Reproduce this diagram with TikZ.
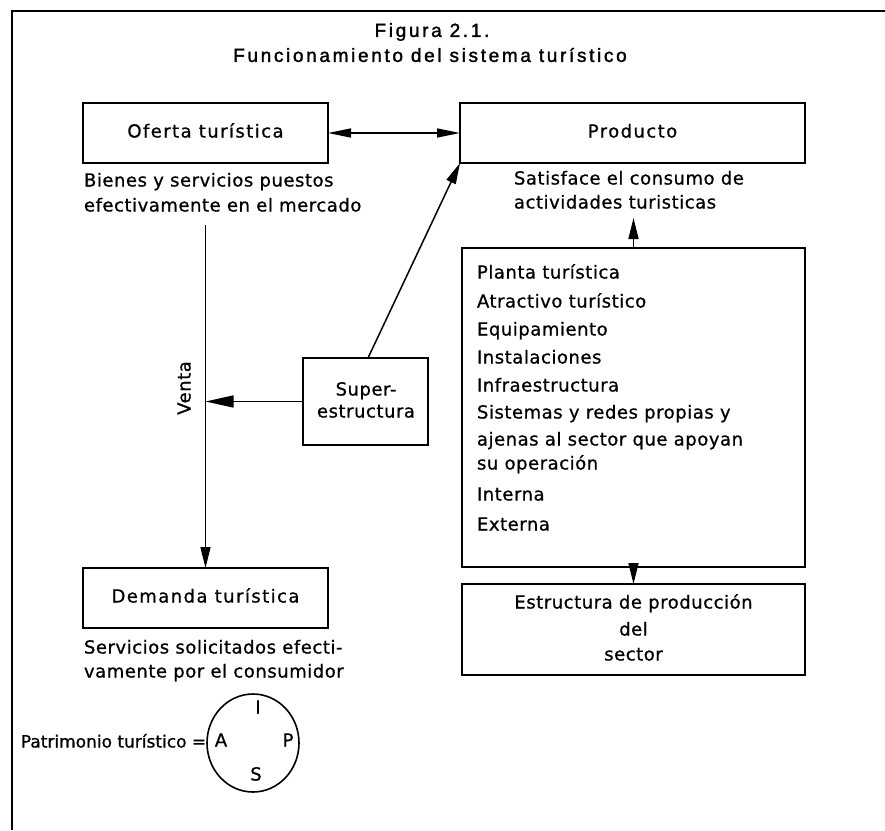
\documentclass[tikz,border=0pt]{standalone}
\usepackage{fontspec}
\setmainfont{DejaVu Sans}
\newfontfamily\bodyfont{DejaVu Sans}[LetterSpace=3,FakeBold=0.8]
\newfontfamily\boxfont{DejaVu Sans}[LetterSpace=8,FakeBold=0.8]
\newfontfamily\plainfont{DejaVu Sans}[FakeBold=0.8]
\newfontfamily\titlefont{Liberation Sans}[LetterSpace=14,FakeBold=1.6]
\usetikzlibrary{arrows.meta,shapes.geometric}
\begin{document}
\begin{tikzpicture}[x=1pt,y=-1pt,
  txt/.style={inner sep=0pt, outer sep=0pt, font=\bodyfont\fontsize{18}{22}\selectfont, text height=13pt, text depth=4pt},
  btxt/.style={txt, font=\boxfont\fontsize{18}{22}\selectfont},
  ttl/.style={inner sep=0pt, font=\titlefont\fontsize{19}{22}\selectfont},
  boxn/.style={draw, line width=1.9pt, inner sep=0pt, outer sep=0pt},
  arr/.style={line width=1.5pt, -{Triangle[length=21pt,width=10pt]}},
  darr/.style={line width=1.5pt, {Triangle[length=23pt,width=9pt]}-{Triangle[length=23pt,width=9pt]}}
]
\useasboundingbox (0,0) rectangle (885,830);
\fill[white] (0,0) rectangle (885,830);
% frame
\draw[line width=1.4pt] (12,830) -- (12,11) -- (885,11);
% title
\node[ttl] (t1) at (432,32) {Figura 2.1.};
\node[ttl] (t2) at (430,55) {Funcionamiento del sistema turístico};
% boxes
\node[boxn, minimum width=245pt, minimum height=60pt] (oferta) at (205.5,133) {};
\node[btxt] (ofertat) at (oferta.center) {Oferta turística};
\node[boxn, minimum width=345pt, minimum height=60pt] (producto) at (632.5,133) {};
\node[btxt] (productot) at (producto.center) {Producto};
\node[boxn, minimum width=125pt, minimum height=87pt] (super) at (365.5,401.5) {};
\node[txt] (super1) at (366,391) {Super-};
\node[txt] (super2) at (366,413) {estructura};
\node[boxn, minimum width=343pt, minimum height=319pt] (planta) at (633.5,407.5) {};
\node[boxn, minimum width=343pt, minimum height=91pt] (estr) at (633.5,629.5) {};
\node[boxn, minimum width=245pt, minimum height=60pt] (demanda) at (205.5,598) {};
\node[btxt] (demandat) at (demanda.center) {Demanda turística};
% captions
\node[txt, anchor=west] (c1) at (84,182) {Bienes y servicios puestos};
\node[txt, anchor=west] (c2) at (84,207) {efectivamente en el mercado};
\node[txt, anchor=west] (c3) at (514,180) {Satisface el consumo de};
\node[txt, anchor=west] (c4) at (514,204) {actividades turisticas};
\node[txt, anchor=west] (c5) at (84,649) {Servicios solicitados efecti-};
\node[txt, anchor=west] (c6) at (84,673) {vamente por el consumidor};
% list in big box
\node[txt, anchor=west] (l1) at (477,274) {Planta turística};
\node[txt, anchor=west] (l2) at (477,303) {Atractivo turístico};
\node[txt, anchor=west] (l3) at (477,331) {Equipamiento};
\node[txt, anchor=west] (l4) at (477,359) {Instalaciones};
\node[txt, anchor=west] (l5) at (477,387) {Infraestructura};
\node[txt, anchor=west] (l6) at (477,414) {Sistemas y redes propias y};
\node[txt, anchor=west] (l7) at (477,441) {ajenas al sector que apoyan};
\node[txt, anchor=west] (l8) at (477,465) {su operación};
\node[txt, anchor=west] (l9) at (477,496) {Interna};
\node[txt, anchor=west] (l10) at (477,526) {Externa};
% estructura text
\node[txt] (e1) at (633.5,604) {Estructura de producción};
\node[txt] (e2) at (633.5,631) {del};
\node[txt] (e3) at (633.5,656) {sector};
% Venta
\node[txt, rotate=90] (venta) at (186,388) {Venta};
% connectors
\coordinate (vtop) at (205.5,225);
\coordinate (satbot) at (633.5,218);
\draw[darr] (oferta.east) -- (producto.west);
\draw[arr] (vtop) -- (demanda.north);
\draw[line width=1.5pt, -{Triangle[length=28pt,width=12pt]}] (super.west) -- (super.west -| vtop);
\draw[arr] (368,358) -- (producto.south west);
\draw[arr] (planta.north) -- (satbot);
\draw[arr] (planta.south) -- (estr.north);
% patrimonio
\node[draw, ellipse, line width=1.6pt, inner sep=0pt, minimum width=92pt, minimum height=98pt] (pat) at (253,743) {};
\node[txt, font=\plainfont\fontsize{17}{20}\selectfont, anchor=east] (patt) at (pat.west) {Patrimonio turístico =};
\node[txt] (pI) at (258,709) {I};
\node[txt] (pA) at (221,742) {A};
\node[txt] (pP) at (288,742) {P};
\node[txt] (pS) at (256,776) {S};
\end{tikzpicture}
\end{document}
